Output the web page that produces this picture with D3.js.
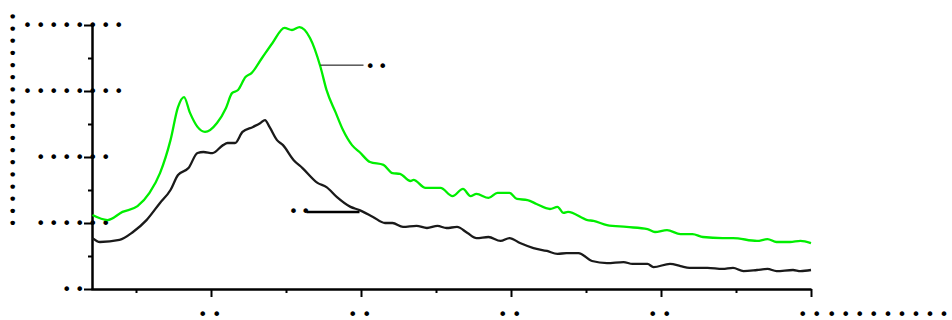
<!DOCTYPE html>
<html>
<head>
<meta charset="utf-8">
<script src="https://cdn.jsdelivr.net/npm/d3@7"></script>
<style>
  body { margin: 0; background: #fff; }
  text { font-family: "DejaVu Sans", sans-serif; fill: #000; }
</style>
</head>
<body>
<script>
'use strict';

// wavelength (x) and intensity (y)
const greenX = [321, 331, 341, 351, 359, 366, 373, 378, 382, 386, 391, 396, 404, 410, 414, 418, 423, 427, 434, 441, 449, 454, 459, 466, 473, 477, 483, 488, 494, 499, 506, 515, 521, 526, 533, 535, 543, 553, 561, 568, 573, 577, 585, 591, 599, 604, 611, 617, 626, 631, 635, 638, 651, 655, 664, 677, 691, 696, 704, 713, 721, 728, 741, 748, 764, 771, 777, 786, 793, 800];
const greenY = [28.0, 26.1, 29.2, 31.4, 36.4, 43.9, 56.4, 68.9, 72.7, 66.7, 61.4, 59.5, 62.9, 68.6, 74.2, 75.4, 80.3, 81.8, 87.5, 93.2, 98.9, 98.1, 99.2, 95.1, 84.1, 75.4, 67.0, 60.2, 54.5, 51.9, 48.1, 47.0, 43.9, 43.6, 40.9, 41.3, 38.3, 38.3, 35.2, 37.9, 35.2, 36.0, 34.5, 36.4, 36.4, 34.1, 33.7, 32.2, 30.3, 31.1, 28.8, 29.2, 26.1, 25.8, 24.2, 23.5, 22.7, 21.6, 22.3, 20.8, 20.8, 19.7, 19.3, 19.3, 18.2, 18.9, 17.8, 17.8, 18.2, 17.4];

const blackX = [321, 326, 339, 348, 357, 366, 373, 378, 385, 391, 395, 401, 408, 411, 416, 421, 428, 433, 436, 439, 444, 448, 455, 461, 471, 477, 484, 493, 499, 508, 516, 521, 528, 537, 544, 551, 557, 564, 571, 577, 585, 593, 599, 606, 615, 624, 631, 637, 645, 654, 664, 675, 681, 691, 695, 706, 713, 719, 731, 741, 748, 755, 764, 771, 777, 788, 793, 800];
const blackY = [19.3, 17.8, 18.6, 21.6, 26.1, 32.6, 37.5, 43.2, 45.8, 51.5, 51.9, 51.5, 54.5, 55.3, 55.3, 59.5, 61.4, 62.9, 64.0, 61.4, 56.4, 54.5, 48.9, 45.8, 40.2, 38.6, 34.8, 31.1, 29.9, 27.3, 25.0, 25.0, 23.5, 23.9, 23.1, 23.9, 23.1, 23.5, 21.2, 19.3, 19.7, 18.2, 19.3, 17.4, 15.5, 14.4, 13.3, 13.6, 13.6, 10.6, 9.8, 10.2, 9.5, 9.5, 8.3, 9.5, 8.7, 8.0, 8.0, 7.6, 8.0, 6.8, 7.2, 7.6, 6.8, 7.2, 6.8, 7.2];

// tick values and their (masked) labels
const xTicks = [400, 500, 600, 700, 800];
const xTickLabels = ["••", "••", "••", "••", "••"];
const xMinorTicks = [350, 450, 550, 650, 750];
const yTicks = [0, 25, 50, 75, 100];
const yTickLabels = ["••", "••••••", "••••••", "••••••••", "••••••••"];
const yMinorTicks = [12.5, 37.5, 62.5, 87.5];
const xTitle = "•••••••••";
const yTitle = "••••••••••••••••••";

// series labels: anchor on curve [x, y] and label
const seriesLabels = ["••", "••"];
const greenLabelAt = [473, 84.8];
const blackLabelAt = [499, 29.2];

(function () {
  const width = 952, height = 320;
  const svg = d3.select("body").append("svg")
    .attr("width", width)
    .attr("height", height);

  const xScale = d3.scaleLinear().domain([320, 800]).range([91, 811]);
  const yScale = d3.scaleLinear().domain([0, 100]).range([289, 25]);

  // dotted label text, centred vertically on y
  function dots(sel, size, spacing) {
    return sel.attr("dominant-baseline", "central")
      .style("font-size", size + "px")
      .style("letter-spacing", spacing + "px");
  }

  // axes
  const xAxis = d3.axisBottom(xScale).tickValues(xTicks).tickSize(8)
    .tickSizeOuter(0).tickFormat("");
  const gx = svg.append("g").attr("transform", "translate(0,289)").call(xAxis);
  gx.select(".domain").attr("stroke-width", 2.5);
  gx.selectAll(".tick line").attr("stroke-width", 2);

  svg.append("g").attr("transform", "translate(0,289)")
    .call(d3.axisBottom(xScale).tickValues(xMinorTicks).tickSize(4).tickFormat(""))
    .call(g => g.select(".domain").remove())
    .selectAll(".tick line").attr("stroke-width", 2);

  const yAxis = d3.axisLeft(yScale).tickValues(yTicks).tickSize(8)
    .tickSizeOuter(0).tickFormat("");
  const gy = svg.append("g").attr("transform", "translate(92,0)").call(yAxis);
  gy.select(".domain").attr("stroke-width", 2.5);
  gy.selectAll(".tick line").attr("stroke-width", 2);

  svg.append("g").attr("transform", "translate(92,0)")
    .call(d3.axisLeft(yScale).tickValues(yMinorTicks).tickSize(4).tickFormat(""))
    .call(g => g.select(".domain").remove())
    .selectAll(".tick line").attr("stroke-width", 2);

  // tick labels (dots)
  svg.selectAll(".xlab")
    .data(xTicks)
    .enter().append("text")
    .attr("class", "xlab")
    .attr("x", (d) => xScale(d) + 1)
    .attr("y", 314)
    .attr("text-anchor", "middle")
    .call(dots, 16, 4.6)
    .text((d, i) => xTickLabels[i]);

  svg.append("text")
    .attr("x", xScale(800) + 16)
    .attr("y", 314)
    .call(dots, 16, 4.6)
    .text(xTitle);

  svg.selectAll(".ylab")
    .data(yTicks)
    .enter().append("text")
    .attr("class", "ylab")
    .attr("x", 75)
    .attr("y", (d) => yScale(d))
    .attr("text-anchor", "middle")
    .call(dots, 16, 3.6)
    .text((d, i) => yTickLabels[i]);

  svg.append("text")
    .attr("transform", "translate(14,118)rotate(-90)")
    .attr("text-anchor", "middle")
    .call(dots, 15, 3.3)
    .text(yTitle);

  // lines
  const line = d3.line()
    .x((d) => xScale(d[0]))
    .y((d) => yScale(d[1]))
    .curve(d3.curveMonotoneX);

  svg.append("path")
    .datum(d3.zip(blackX, blackY))
    .attr("fill", "none")
    .attr("stroke", "#1a1a1a")
    .attr("stroke-width", 2.3)
    .attr("d", line);

  svg.append("path")
    .datum(d3.zip(greenX, greenY))
    .attr("fill", "none")
    .attr("stroke", "#00ee00")
    .attr("stroke-width", 2.3)
    .attr("d", line);

  // series labels
  const gxp = xScale(greenLabelAt[0]), gyp = yScale(greenLabelAt[1]);
  svg.append("line")
    .attr("x1", gxp).attr("y1", gyp)
    .attr("x2", gxp + 43).attr("y2", gyp)
    .attr("stroke", "#000").attr("stroke-width", 1);
  svg.append("text")
    .attr("x", gxp + 45).attr("y", gyp + 1)
    .call(dots, 16, 3)
    .text(seriesLabels[0]);

  const bxp = xScale(blackLabelAt[0]), byp = yScale(blackLabelAt[1]);
  svg.append("line")
    .attr("x1", bxp).attr("y1", byp)
    .attr("x2", bxp - 53).attr("y2", byp)
    .attr("stroke", "#000").attr("stroke-width", 2.5);
  svg.append("text")
    .attr("x", bxp - 46).attr("y", byp)
    .attr("text-anchor", "end")
    .call(dots, 16, 3)
    .text(seriesLabels[1]);
})();
</script>
</body>
</html>
